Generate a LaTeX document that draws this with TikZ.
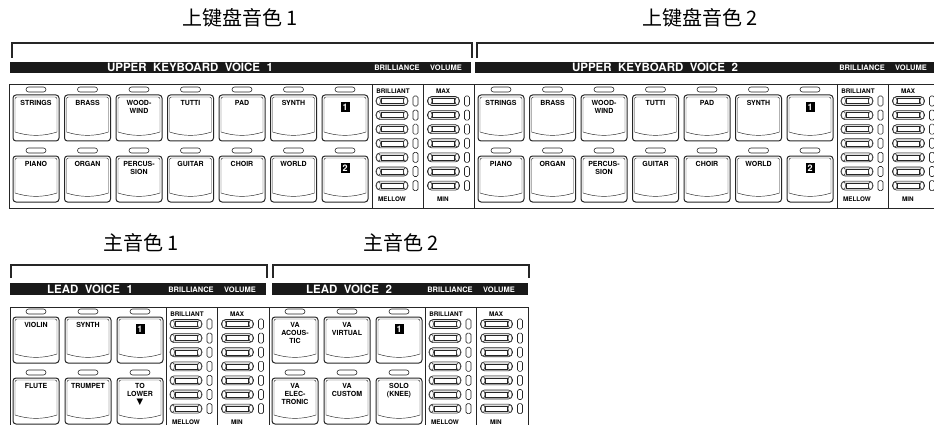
\documentclass[tikz,border=0pt]{standalone}
\usepackage{fontspec}
\setmainfont{TeX Gyre Heros}
\newfontfamily\cjkfont{Noto Sans CJK SC}
\newfontfamily\symfont{DejaVu Sans}

\begin{document}
\begin{tikzpicture}[
  x=1pt, y=-1pt,
  line/.style={draw=black!85, line width=0.6pt},
  bracket/.style={draw=black!85, line width=1.8pt},
  bar/.style={fill=black!90},
  heading/.style={font=\cjkfont\fontsize{20}{20}\selectfont, inner sep=0pt},
  bartext/.style={text=white, font=\bfseries\fontsize{11.5}{11.5}\selectfont, inner sep=0pt},
  colhead/.style={text=white, font=\bfseries\fontsize{7.5}{7.5}\selectfont, inner sep=0pt},
  keytext/.style={font=\bfseries\fontsize{7}{8.2}\selectfont, align=center, inner sep=0pt, anchor=north},
  tag/.style={font=\bfseries\fontsize{6.3}{6.3}\selectfont, inner sep=0pt},
  badge/.style={fill=black, text=white, font=\bfseries\fontsize{9}{9}\selectfont, inner sep=0pt, minimum width=9pt, minimum height=10pt},
  key/.pic={
    \draw[line, rounded corners=2.5pt] (13,-8) rectangle (33,-3);
    \draw[line, line width=1pt, rounded corners=3pt] (0,0) rectangle (46,46);
    \draw[line, line width=0.45pt, rounded corners=2pt] (2,37) -- (2,2) -- (44,2) -- (44,37);
    \draw[line, line width=0.45pt] (2,37) .. controls (16,41.5) and (30,41.5) .. (44,37);
  },
  fader/.pic={
    \draw[line, fill=black!12, rounded corners=4pt] (-16,-4.5) rectangle (16,4.5);
    \draw[line, line width=0.4pt, fill=white] (-11,-2.5) rectangle (11,2.5);
    \draw[line, line width=0.5pt, fill=white] (-13.5,0) ellipse (2 and 3.8) (13.5,0) ellipse (2 and 3.8);
    \draw[line, rounded corners=1.5pt] (21,-5) rectangle (26,5);
  }
]
  \useasboundingbox (0,0) rectangle (934,425);
  \clip (0,0) rectangle (934,425);

  % group titles
  \node[heading] (h-up1) at (240,18) {上键盘音色 1};
  \node[heading] (h-up2) at (700,18) {上键盘音色 2};
  \node[heading] (h-ld1) at (141,243) {主音色 1};
  \node[heading] (h-ld2) at (401,243) {主音色 2};

  % upper keyboard voice sections
  \foreach \ox/\n in {0/1,465/2}{
    \draw[bracket] (\ox+12,58) |- (\ox+472,43) -- (\ox+472,58);
    \fill[bar] (\ox+10,62) rectangle (\ox+471,73);
    \node[bartext] (ub\n) at (\ox+190,67.5) {UPPER\ \ KEYBOARD\ \ VOICE\ \ \n};
    \node[colhead] (ubr\n) at (\ox+397,68) {BRILLIANCE};
    \node[colhead] (uvo\n) at (\ox+446,68) {VOLUME};
    \draw[line] (\ox+9,84) rectangle (\ox+474,208);
    \draw[line] (\ox+372,84) -- (\ox+372,208) (\ox+423,84) -- (\ox+423,208);
    \foreach \i in {0,...,6}{
      \pic at (\ox+13+51.5*\i,95) {key};
      \pic at (\ox+13+51.5*\i,156) {key};
    }
    \foreach \lab [count=\i from 0] in {STRINGS,BRASS,{WOOD-\\WIND},TUTTI,PAD,SYNTH}
      \node[keytext] (ua\n-\i) at (\ox+36+51.5*\i,100) {\lab};
    \foreach \lab [count=\i from 0] in {PIANO,ORGAN,{PERCUS-\\SION},GUITAR,CHOIR,WORLD}
      \node[keytext] (uc\n-\i) at (\ox+36+51.5*\i,161) {\lab};
    \node[badge] (ubd\n-1) at (\ox+345,107) {1};
    \node[badge] (ubd\n-2) at (\ox+345,168) {2};
    \foreach \r in {0,...,6}{
      \pic at (\ox+392,101+14.1*\r) {fader};
      \pic at (\ox+443.5,101+14.1*\r) {fader};
    }
    \node[tag] (ubt\n) at (\ox+393,91) {BRILLIANT};
    \node[tag] (umw\n) at (\ox+392,199.5) {MELLOW};
    \node[tag] (umx\n) at (\ox+443,91) {MAX};
    \node[tag] (umn\n) at (\ox+443,199.5) {MIN};
  }

  % lead voice sections
  \foreach \ox/\bx/\n in {0/0/1,259/262/2}{
    \draw[bracket] (\bx+11,278) |- (\bx+267,265) -- (\bx+267,278);
    \fill[bar] (\bx+10,283) rectangle (\bx+266,295);
    \node[bartext] (lb\n) at (\ox+90,289) {LEAD\ \ VOICE\ \ \n};
    \node[colhead] (lbr\n) at (\ox+191,289.5) {BRILLIANCE};
    \node[colhead] (lvo\n) at (\ox+240,289.5) {VOLUME};
    \draw[line] (\ox+10,307) rectangle (\ox+269,440);
    \draw[line] (\ox+166,307) -- (\ox+166,440) (\ox+217,307) -- (\ox+217,440);
    \foreach \i in {0,1,2}{
      \pic at (\ox+13+52*\i,317) {key};
      \pic at (\ox+13+52*\i,378) {key};
    }
    \node[badge] (lbd\n) at (\ox+140,329) {1};
    \foreach \r in {0,...,6}{
      \pic at (\ox+186,324+14.1*\r) {fader};
      \pic at (\ox+237.5,324+14.1*\r) {fader};
    }
    \node[tag] (lbt\n) at (\ox+187,314) {BRILLIANT};
    \node[tag] (lmw\n) at (\ox+186,422.5) {MELLOW};
    \node[tag] (lmx\n) at (\ox+237,314) {MAX};
    \node[tag] (lmn\n) at (\ox+237,422.5) {MIN};
  }
  \foreach \lab [count=\i from 0] in {VIOLIN,SYNTH}
    \node[keytext] (la1-\i) at (36+52*\i,322) {\lab};
  \foreach \lab [count=\i from 0] in {FLUTE,TRUMPET,{TO\\LOWER\\{\symfont\fontsize{8.5}{8.2}\selectfont ▼}}}
    \node[keytext] (lc1-\i) at (36+52*\i,383) {\lab};
  \foreach \lab [count=\i from 0] in {{VA\\ACOUS-\\TIC},{VA\\VIRTUAL}}
    \node[keytext] (la2-\i) at (295+52*\i,322) {\lab};
  \foreach \lab [count=\i from 0] in {{VA\\ELEC-\\TRONIC},{VA\\CUSTOM},{SOLO\\(KNEE)}}
    \node[keytext] (lc2-\i) at (295+52*\i,383) {\lab};
\end{tikzpicture}
\end{document}
